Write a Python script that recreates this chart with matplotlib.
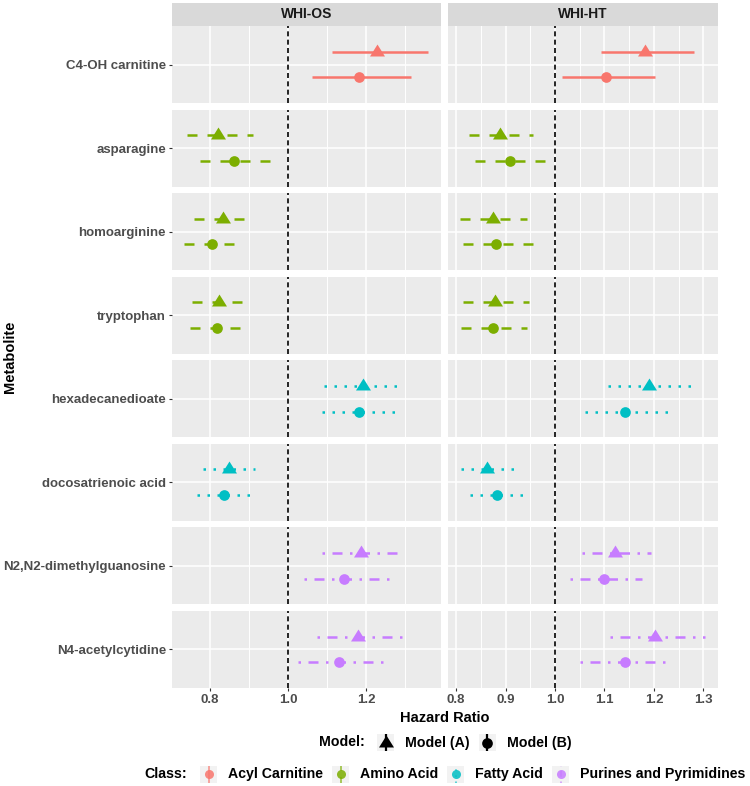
import matplotlib
matplotlib.use("Agg")
import matplotlib.pyplot as plt

plt.rcParams['font.family'] = ['Liberation Sans', 'DejaVu Sans']

# ---------------- data ----------------
metabolites = ["C4-OH carnitine", "asparagine", "homoarginine", "tryptophan",
               "hexadecanedioate", "docosatrienoic acid",
               "N2,N2-dimethylguanosine", "N4-acetylcytidine"]
met_class = ["Acyl Carnitine", "Amino Acid", "Amino Acid", "Amino Acid",
             "Fatty Acid", "Fatty Acid",
             "Purines and Pyrimidines", "Purines and Pyrimidines"]
cohorts = ["WHI-OS", "WHI-HT"]
models = ["Model (A)", "Model (B)"]
classes = ["Acyl Carnitine", "Amino Acid", "Fatty Acid", "Purines and Pyrimidines"]

# WHI-OS
os_a_hr = [1.229, 0.821, 0.833, 0.823, 1.191, 0.848, 1.187, 1.179]
os_a_lo = [1.113, 0.742, 0.759, 0.753, 1.093, 0.781, 1.087, 1.074]
os_a_hi = [1.360, 0.909, 0.892, 0.887, 1.281, 0.915, 1.282, 1.293]
os_b_hr = [1.181, 0.862, 0.806, 0.819, 1.181, 0.835, 1.143, 1.130]
os_b_lo = [1.062, 0.774, 0.734, 0.749, 1.087, 0.768, 1.042, 1.025]
os_b_hi = [1.314, 0.957, 0.866, 0.882, 1.274, 0.902, 1.259, 1.244]
# WHI-HT
ht_a_hr = [1.182, 0.889, 0.874, 0.879, 1.190, 0.863, 1.121, 1.203]
ht_a_lo = [1.0925, 0.827, 0.808, 0.814, 1.107, 0.811, 1.054, 1.111]
ht_a_hi = [1.281, 0.956, 0.943, 0.947, 1.277, 0.918, 1.194, 1.304]
ht_b_hr = [1.104, 0.909, 0.881, 0.875, 1.141, 0.883, 1.100, 1.141]
ht_b_lo = [1.0135, 0.839, 0.814, 0.810, 1.061, 0.829, 1.031, 1.051]
ht_b_hi = [1.202, 0.983, 0.955, 0.944, 1.228, 0.935, 1.176, 1.226]

est = {("WHI-OS", "Model (A)"): (os_a_hr, os_a_lo, os_a_hi),
       ("WHI-OS", "Model (B)"): (os_b_hr, os_b_lo, os_b_hi),
       ("WHI-HT", "Model (A)"): (ht_a_hr, ht_a_lo, ht_a_hi),
       ("WHI-HT", "Model (B)"): (ht_b_hr, ht_b_lo, ht_b_hi)}

major_ticks = {"WHI-OS": [0.8, 1.0, 1.2],
               "WHI-HT": [0.8, 0.9, 1.0, 1.1, 1.2, 1.3]}
minor_ticks = {"WHI-OS": [0.9, 1.1, 1.3],
               "WHI-HT": [0.85, 0.95, 1.05, 1.15, 1.25]}

# ---------------- styles ----------------
cls_color = {"Acyl Carnitine": "#F8766D", "Amino Acid": "#7CAE00",
             "Fatty Acid": "#00BFC4", "Purines and Pyrimidines": "#C77CFF"}
cls_ls = {"Acyl Carnitine": "solid", "Amino Acid": (0, (4, 4)),
          "Fatty Acid": (0, (1, 3)), "Purines and Pyrimidines": (0, (1, 3, 4, 3))}
tri = [(0, 1), (-0.9375, -0.5), (0.9375, -0.5), (0, 1)]
mdl_marker = {"Model (A)": (tri, 11.5), "Model (B)": ("o", 7.7)}
mdl_y = {"Model (A)": 1.2, "Model (B)": 0.8}

W, H = 750, 786
fig = plt.figure(figsize=(W / 100, H / 100), dpi=100)


def px_axes(x0, y0, x1, y1):
    return fig.add_axes([x0 / W, 1 - y1 / H, (x1 - x0) / W, (y1 - y0) / H])


col_x = [(172, 440.7), (447.7, 717.7)]
row_top, row_h, row_gap = 26, 77.06, 6.5
tick_col = "#4D4D4D"

for j, coh in enumerate(cohorts):
    lo_all = est[(coh, models[0])][1] + est[(coh, models[1])][1]
    hi_all = est[(coh, models[0])][2] + est[(coh, models[1])][2]
    pad = 0.05 * (max(hi_all) - min(lo_all))
    xlim = (min(lo_all) - pad, max(hi_all) + pad)
    x0, x1 = col_x[j]

    strip = px_axes(x0, 3, x1, 26)
    strip.set_facecolor("#D9D9D9")
    strip.set_xticks([]); strip.set_yticks([])
    for s in strip.spines.values():
        s.set_visible(False)
    strip.text(0.5, 0.5, coh, ha="center", va="center", fontsize=10,
               fontweight="bold", color="#1A1A1A", transform=strip.transAxes)

    for i, met in enumerate(metabolites):
        top = row_top + i * (row_h + row_gap)
        ax = px_axes(x0, top, x1, top + row_h)
        ax.set_facecolor("#EBEBEB")
        for s in ax.spines.values():
            s.set_visible(False)
        ax.set_xlim(xlim)
        ax.set_ylim(0.4, 1.6)
        ax.set_xticks(major_ticks[coh])
        ax.set_xticks(minor_ticks[coh], minor=True)
        ax.set_yticks([1])
        ax.set_axisbelow(True)
        ax.grid(which="major", color="white", lw=1.1)
        ax.grid(which="minor", axis="x", color="white", lw=0.7)
        ax.tick_params(which="minor", length=0)
        ax.tick_params(which="major", length=2.3, width=0.8, color="#333333",
                       pad=2, labelsize=9.5, labelcolor=tick_col)
        if j == 0:
            ax.set_yticklabels([met], fontweight="bold")
        else:
            ax.tick_params(axis="y", length=0, labelleft=False)
        if i == len(metabolites) - 1:
            ax.set_xticklabels(["%.1f" % t for t in major_ticks[coh]], fontweight="bold")
        else:
            ax.tick_params(axis="x", length=0, labelbottom=False)

        ax.axvline(1.0, color="black", lw=1.2, ls=(0, (3, 2)), zorder=2)

        cls = met_class[i]
        for m in models:
            hr, lo, hi = est[(coh, m)]
            y = mdl_y[m]
            ax.plot([lo[i], hi[i]], [y, y], color=cls_color[cls], ls=cls_ls[cls],
                    lw=1.8, dash_capstyle="butt", solid_capstyle="butt", zorder=3)
            mk, ms = mdl_marker[m]
            ax.plot([hr[i]], [y], marker=mk, ms=ms, color=cls_color[cls],
                    mec="none", ls="none", zorder=4)

fig.text(10 / W, 1 - 357 / H, "Metabolite", rotation=90, ha="center", va="center",
         fontsize=10.5, fontweight="bold")
fig.text(445 / W, 1 - 718 / H, "Hazard Ratio", ha="center", va="center",
         fontsize=10.5, fontweight="bold")

# ---------------- legends ----------------
renderer = fig.canvas.get_renderer()
LEG_FS = 10.2


def text_w(s):
    t = fig.text(0, 0, s, fontsize=LEG_FS, fontweight="bold")
    w = t.get_window_extent(renderer).width
    t.remove()
    return w


def legend_row(title, labels, draw_key, yc, key=17, g_title=13, g_key=11, g_lab=9):
    widths = [text_w(l) for l in labels]
    total = text_w(title) + g_title + sum(key + g_key + w for w in widths) + g_lab * (len(labels) - 1)
    x = min(445 - total / 2, 749 - total)
    fig.text(x / W, 1 - yc / H, title, ha="left", va="center", fontsize=LEG_FS,
             fontweight="bold")
    x += text_w(title) + g_title
    for k, (lab, w) in enumerate(zip(labels, widths)):
        kax = px_axes(x, yc - key / 2, x + key, yc + key / 2)
        kax.set_facecolor("#F2F2F2")
        kax.set_xlim(0, 1); kax.set_ylim(0, 1)
        kax.set_xticks([]); kax.set_yticks([])
        for s in kax.spines.values():
            s.set_visible(False)
        draw_key(kax, lab)
        x += key + g_key
        fig.text(x / W, 1 - yc / H, lab, ha="left", va="center", fontsize=LEG_FS,
                 fontweight="bold")
        x += w + g_lab


def model_key(kax, lab):
    mk, ms = mdl_marker[lab]
    kax.plot([0.5, 0.5], [0, 1], color="black", lw=1.6, solid_capstyle="butt")
    kax.plot([0.5], [0.5], marker=mk, ms=ms, color="black", mec="none", ls="none")


def class_key(kax, lab):
    kax.plot([0.5, 0.5], [0, 1], color=cls_color[lab], ls=cls_ls[lab], lw=1.1,
             alpha=0.8, dash_capstyle="butt", solid_capstyle="butt")
    kax.plot([0.5], [0.5], marker="o", ms=6.5, color=cls_color[lab], mec="none",
             ls="none", alpha=0.85)


legend_row("Model:", models, model_key, 742.5)
legend_row("Class:", classes, class_key, 774)

fig.savefig("out.png", dpi=100)
